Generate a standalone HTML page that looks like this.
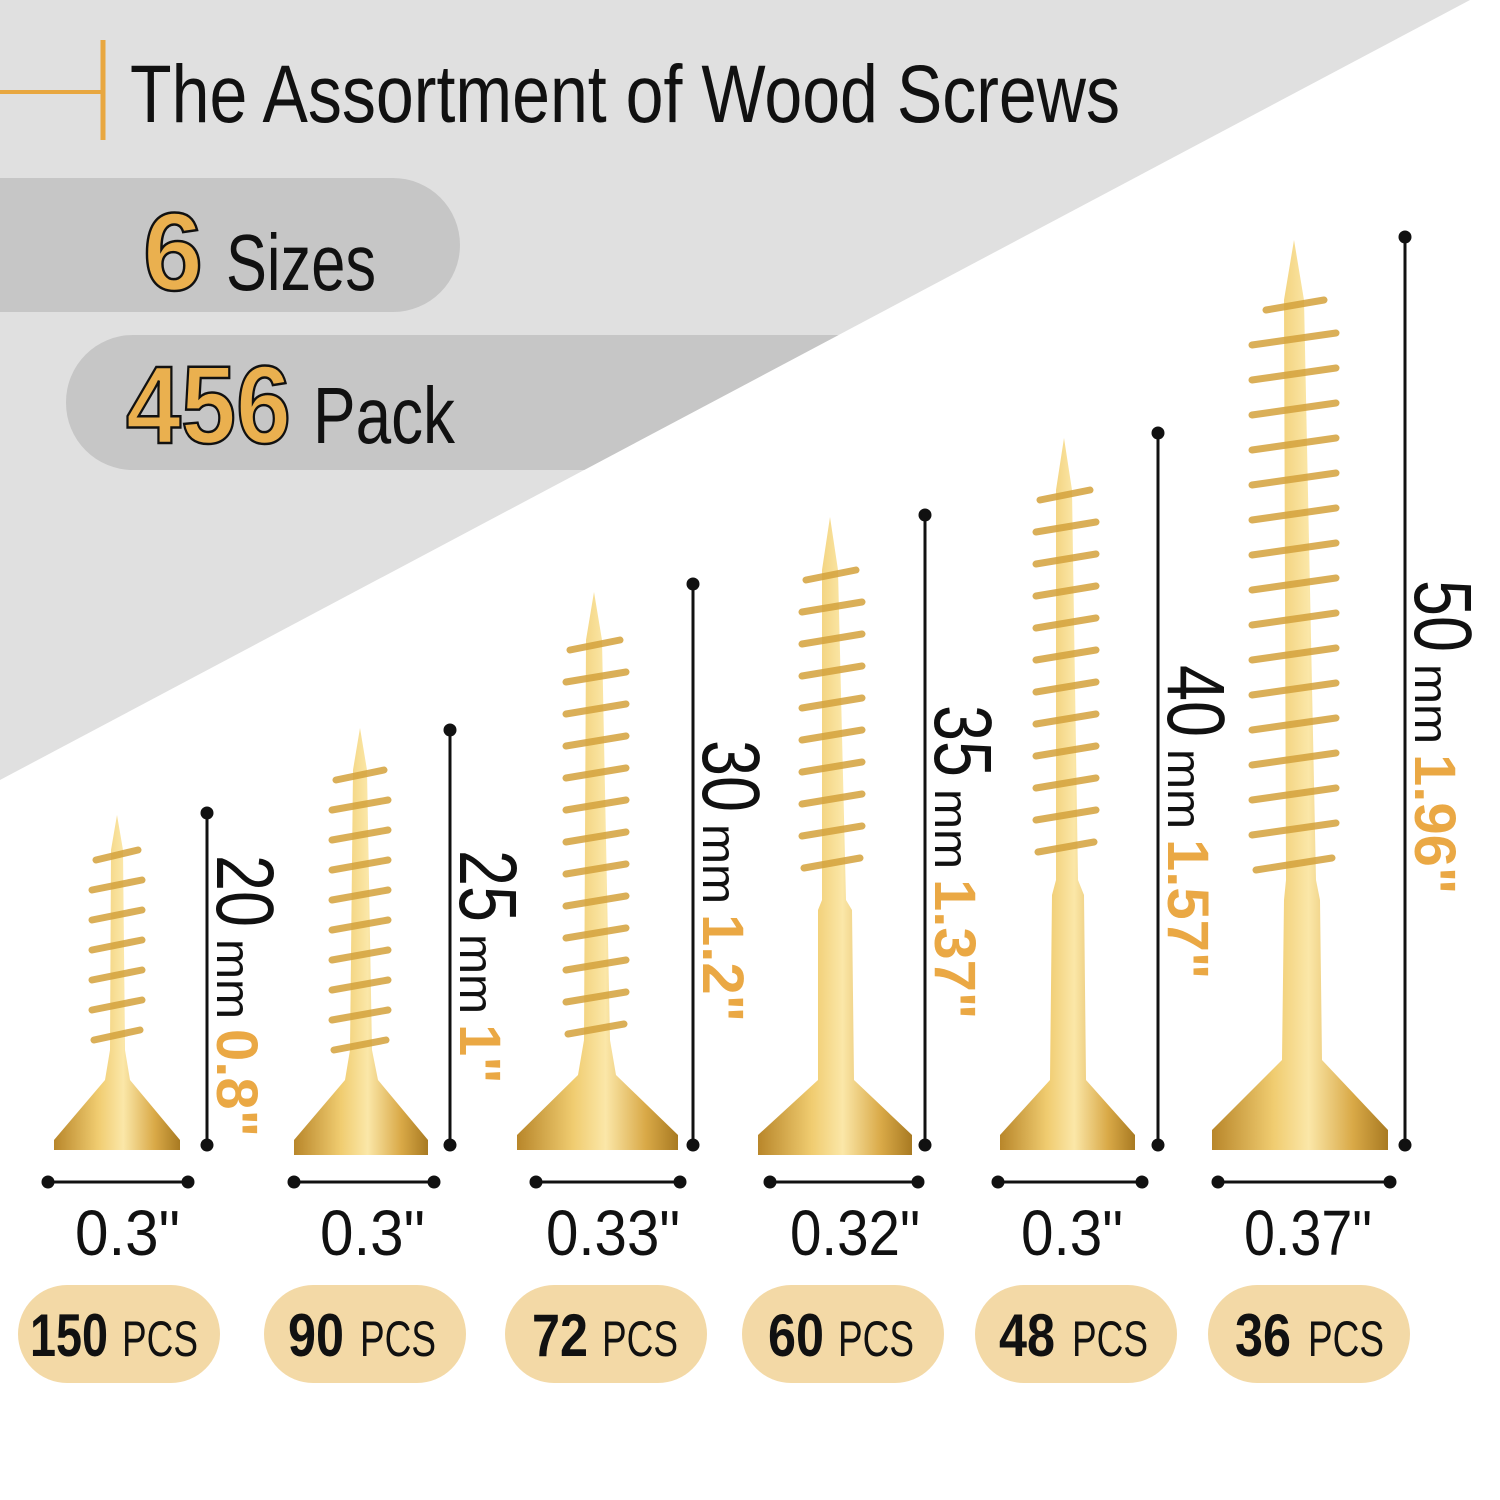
<!DOCTYPE html>
<html><head><meta charset="utf-8"><style>
html,body{margin:0;padding:0;background:#fff;}
svg{display:block;font-family:"Liberation Sans",sans-serif;}
</style></head><body>
<svg width="1500" height="1500" viewBox="0 0 1500 1500" xmlns="http://www.w3.org/2000/svg">
<defs>
<linearGradient id="g" x1="0" x2="1" y1="0" y2="0">
<stop offset="0" stop-color="#b8862a"/><stop offset="0.35" stop-color="#f0cc70"/><stop offset="0.55" stop-color="#fbe7a8"/><stop offset="0.8" stop-color="#d9a947"/><stop offset="1" stop-color="#a87a22"/>
</linearGradient>
<clipPath id="tri"><polygon points="0,0 1470,0 0,780"/></clipPath>
</defs>
<rect width="1500" height="1500" fill="#fff"/>
<polygon points="0,0 1470,0 0,780" fill="#e0e0e0"/>
<g clip-path="url(#tri)">
<rect x="-80" y="178" width="540" height="134" rx="67" fill="#c6c6c6"/>
<rect x="66" y="335" width="1200" height="135" rx="67" fill="#c6c6c6"/>
</g>
<line x1="0" y1="92" x2="103" y2="92" stroke="#e8a740" stroke-width="4"/>
<line x1="103" y1="40" x2="103" y2="140" stroke="#e8a740" stroke-width="5"/>
<text x="130" y="122" font-size="82" fill="#111" textLength="990" lengthAdjust="spacingAndGlyphs">The Assortment of Wood Screws</text>
<text x="143" y="290" font-size="110" font-weight="bold" fill="#eab04f" stroke="#111" stroke-width="2.5" textLength="60" lengthAdjust="spacingAndGlyphs">6</text>
<text x="226" y="290" font-size="80" fill="#111" textLength="150" lengthAdjust="spacingAndGlyphs">Sizes</text>
<text x="126" y="443" font-size="110" font-weight="bold" fill="#eab04f" stroke="#111" stroke-width="2.5" textLength="165" lengthAdjust="spacingAndGlyphs">456</text>
<text x="313" y="443" font-size="80" fill="#111" textLength="142" lengthAdjust="spacingAndGlyphs">Pack</text>

<g fill="url(#g)">
<polygon points="117,815 123,850 125,1050 130,1080 180,1140 180,1150 54,1150 54,1140 105,1080 110,1050 111,850"/>
<polygon points="360,728 367,770 372,1050 378,1080 428,1140 428,1155 294,1155 294,1140 345,1080 350,1050 353,770"/>
<polygon points="594,592 602,640 610,1040 616,1075 678,1135 678,1150 517,1150 517,1135 578,1075 584,1040 586,640"/>
<polygon points="830,517 838,570 846,900 852,910 854,1080 912,1135 912,1155 758,1155 758,1135 818,1080 818,910 822,900 822,570"/>
<polygon points="1064,438 1072,490 1078,880 1084,895 1086,1080 1135,1135 1135,1150 1000,1150 1000,1135 1050,1080 1052,895 1056,880 1056,490"/>
<polygon points="1294,240 1304,300 1316,880 1320,900 1322,1060 1388,1130 1388,1150 1212,1150 1212,1130 1282,1060 1284,900 1286,880 1284,300"/>
</g>
<g stroke="#d4a23c" stroke-width="7" stroke-linecap="round" opacity="0.85">
<path d="M96,860 l42,-10 M92,890 l50,-10 M92,920 l50,-10 M92,950 l50,-10 M92,980 l50,-10 M92,1010 l50,-10 M94,1040 l46,-10"/>
<path d="M336,780 l48,-10 M332,810 l56,-10 M332,840 l56,-10 M332,870 l56,-10 M332,900 l56,-10 M332,930 l56,-10 M332,960 l56,-10 M332,990 l56,-10 M332,1020 l56,-10 M334,1050 l52,-10"/>
<path d="M570,650 l50,-10 M566,682 l60,-10 M566,714 l60,-10 M566,746 l60,-10 M566,778 l60,-10 M566,810 l60,-10 M566,842 l60,-10 M566,874 l60,-10 M566,906 l60,-10 M566,938 l60,-10 M566,970 l60,-10 M566,1002 l60,-10 M568,1034 l56,-10"/>
<path d="M806,580 l50,-10 M802,612 l60,-10 M802,644 l60,-10 M802,676 l60,-10 M802,708 l60,-10 M802,740 l60,-10 M802,772 l60,-10 M802,804 l60,-10 M802,836 l60,-10 M804,868 l56,-10"/>
<path d="M1040,500 l50,-10 M1036,532 l60,-10 M1036,564 l60,-10 M1036,596 l60,-10 M1036,628 l60,-10 M1036,660 l60,-10 M1036,692 l60,-10 M1036,724 l60,-10 M1036,756 l60,-10 M1036,788 l60,-10 M1036,820 l60,-10 M1038,852 l56,-10"/>
<path d="M1266,310 l58,-10 M1252,345 l84,-12 M1252,380 l84,-12 M1252,415 l84,-12 M1252,450 l84,-12 M1252,485 l84,-12 M1252,520 l84,-12 M1252,555 l84,-12 M1252,590 l84,-12 M1252,625 l84,-12 M1252,660 l84,-12 M1252,695 l84,-12 M1252,730 l84,-12 M1252,765 l84,-12 M1252,800 l84,-12 M1252,835 l84,-12 M1256,870 l76,-12"/>
</g>

<g stroke="#111" stroke-width="3" fill="#111">
<line x1="207" y1="813" x2="207" y2="1145"/><circle cx="207" cy="813" r="5"/><circle cx="207" cy="1145" r="5"/>
<line x1="450" y1="730" x2="450" y2="1145"/><circle cx="450" cy="730" r="5"/><circle cx="450" cy="1145" r="5"/>
<line x1="693" y1="584" x2="693" y2="1145"/><circle cx="693" cy="584" r="5"/><circle cx="693" cy="1145" r="5"/>
<line x1="925" y1="515" x2="925" y2="1145"/><circle cx="925" cy="515" r="5"/><circle cx="925" cy="1145" r="5"/>
<line x1="1158" y1="433" x2="1158" y2="1145"/><circle cx="1158" cy="433" r="5"/><circle cx="1158" cy="1145" r="5"/>
<line x1="1405" y1="237" x2="1405" y2="1145"/><circle cx="1405" cy="237" r="5"/><circle cx="1405" cy="1145" r="5"/>
</g>
<g stroke="#111" stroke-width="3" fill="#111">
<line x1="48" y1="1182" x2="188" y2="1182"/><circle cx="48" cy="1182" r="5"/><circle cx="188" cy="1182" r="5"/>
<line x1="294" y1="1182" x2="434" y2="1182"/><circle cx="294" cy="1182" r="5"/><circle cx="434" cy="1182" r="5"/>
<line x1="536" y1="1182" x2="680" y2="1182"/><circle cx="536" cy="1182" r="5"/><circle cx="680" cy="1182" r="5"/>
<line x1="770" y1="1182" x2="918" y2="1182"/><circle cx="770" cy="1182" r="5"/><circle cx="918" cy="1182" r="5"/>
<line x1="998" y1="1182" x2="1142" y2="1182"/><circle cx="998" cy="1182" r="5"/><circle cx="1142" cy="1182" r="5"/>
<line x1="1218" y1="1182" x2="1390" y2="1182"/><circle cx="1218" cy="1182" r="5"/><circle cx="1390" cy="1182" r="5"/>
</g>

<g fill="#111">
<text transform="translate(217,855) rotate(90)"><tspan font-size="82" textLength="72" lengthAdjust="spacingAndGlyphs">20</tspan><tspan font-size="48" dx="12">mm</tspan><tspan font-size="58" font-weight="bold" fill="#eaa844" dx="10">0.8"</tspan></text>
<text transform="translate(460,850) rotate(90)"><tspan font-size="82" textLength="72" lengthAdjust="spacingAndGlyphs">25</tspan><tspan font-size="48" dx="12">mm</tspan><tspan font-size="58" font-weight="bold" fill="#eaa844" dx="10">1"</tspan></text>
<text transform="translate(703,740) rotate(90)"><tspan font-size="82" textLength="72" lengthAdjust="spacingAndGlyphs">30</tspan><tspan font-size="48" dx="12">mm</tspan><tspan font-size="58" font-weight="bold" fill="#eaa844" dx="10">1.2"</tspan></text>
<text transform="translate(935,705) rotate(90)"><tspan font-size="82" textLength="72" lengthAdjust="spacingAndGlyphs">35</tspan><tspan font-size="48" dx="12">mm</tspan><tspan font-size="58" font-weight="bold" fill="#eaa844" dx="10">1.37"</tspan></text>
<text transform="translate(1168,665) rotate(90)"><tspan font-size="82" textLength="72" lengthAdjust="spacingAndGlyphs">40</tspan><tspan font-size="48" dx="12">mm</tspan><tspan font-size="58" font-weight="bold" fill="#eaa844" dx="10">1.57"</tspan></text>
<text transform="translate(1415,580) rotate(90)"><tspan font-size="82" textLength="72" lengthAdjust="spacingAndGlyphs">50</tspan><tspan font-size="48" dx="12">mm</tspan><tspan font-size="58" font-weight="bold" fill="#eaa844" dx="10">1.96"</tspan></text>
</g>

<g font-size="64" fill="#111">
<text x="75" y="1255" textLength="105" lengthAdjust="spacingAndGlyphs">0.3"</text>
<text x="320" y="1255" textLength="105" lengthAdjust="spacingAndGlyphs">0.3"</text>
<text x="546" y="1255" textLength="134" lengthAdjust="spacingAndGlyphs">0.33"</text>
<text x="790" y="1255" textLength="130" lengthAdjust="spacingAndGlyphs">0.32"</text>
<text x="1021" y="1255" textLength="102" lengthAdjust="spacingAndGlyphs">0.3"</text>
<text x="1244" y="1255" textLength="128" lengthAdjust="spacingAndGlyphs">0.37"</text>
</g>

<g fill="#f3d9a6">
<rect x="18" y="1285" width="202" height="98" rx="49"/>
<rect x="264" y="1285" width="202" height="98" rx="49"/>
<rect x="505" y="1285" width="202" height="98" rx="49"/>
<rect x="742" y="1285" width="202" height="98" rx="49"/>
<rect x="975" y="1285" width="202" height="98" rx="49"/>
<rect x="1208" y="1285" width="202" height="98" rx="49"/>
</g>
<g fill="#111">
<text x="30" y="1356" font-size="60" font-weight="bold" textLength="78" lengthAdjust="spacingAndGlyphs">150</text>
<text x="122" y="1356" font-size="50" textLength="76" lengthAdjust="spacingAndGlyphs">PCS</text>
<text x="288" y="1356" font-size="60" font-weight="bold" textLength="56" lengthAdjust="spacingAndGlyphs">90</text>
<text x="360" y="1356" font-size="50" textLength="76" lengthAdjust="spacingAndGlyphs">PCS</text>
<text x="532" y="1356" font-size="60" font-weight="bold" textLength="56" lengthAdjust="spacingAndGlyphs">72</text>
<text x="602" y="1356" font-size="50" textLength="76" lengthAdjust="spacingAndGlyphs">PCS</text>
<text x="768" y="1356" font-size="60" font-weight="bold" textLength="56" lengthAdjust="spacingAndGlyphs">60</text>
<text x="838" y="1356" font-size="50" textLength="76" lengthAdjust="spacingAndGlyphs">PCS</text>
<text x="999" y="1356" font-size="60" font-weight="bold" textLength="56" lengthAdjust="spacingAndGlyphs">48</text>
<text x="1072" y="1356" font-size="50" textLength="76" lengthAdjust="spacingAndGlyphs">PCS</text>
<text x="1235" y="1356" font-size="60" font-weight="bold" textLength="56" lengthAdjust="spacingAndGlyphs">36</text>
<text x="1308" y="1356" font-size="50" textLength="76" lengthAdjust="spacingAndGlyphs">PCS</text>
</g>
</svg>
</body></html>
